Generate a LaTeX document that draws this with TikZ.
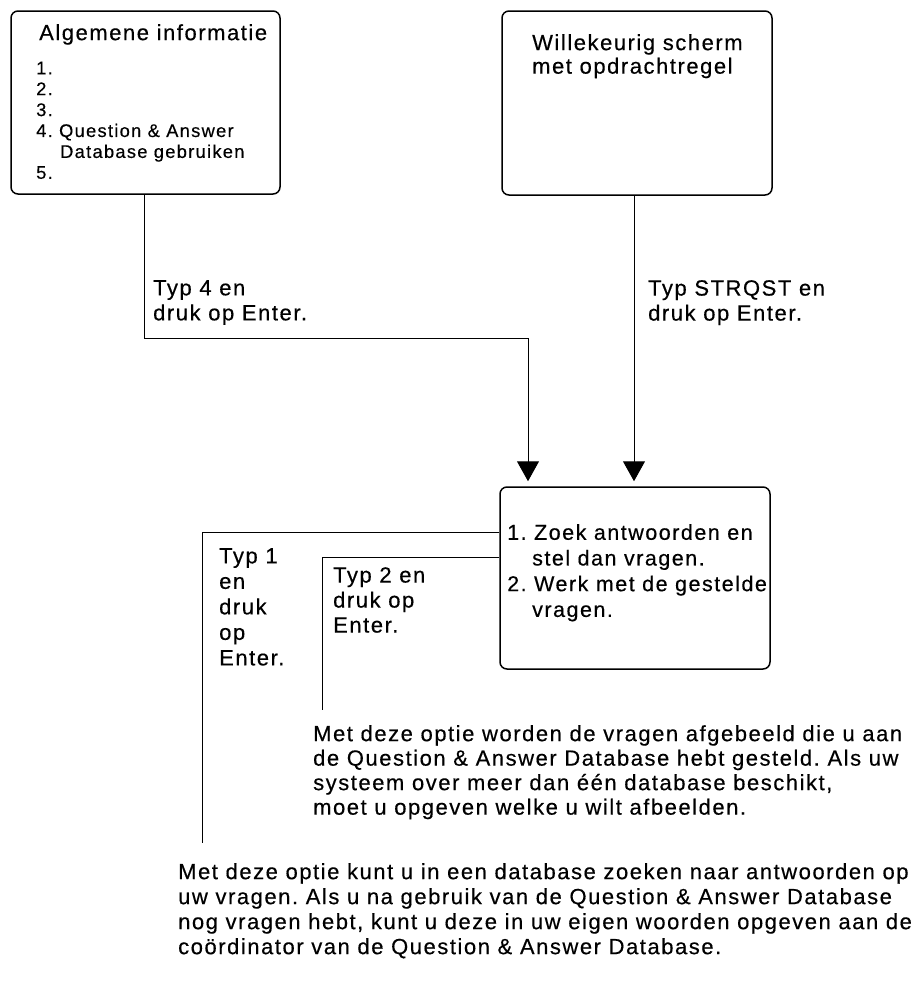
\documentclass[tikz,border=0pt]{standalone}
\usepackage{fontspec}
\setmainfont{Liberation Sans}[LetterSpace=7,FakeBold=0.4]
\usetikzlibrary{arrows.meta}
\frenchspacing
\tikzset{
  box/.style={draw, line width=1.5pt, rounded corners=7pt, inner sep=0pt},
  conn/.style={draw, line width=1pt},
  arr/.style={-{Triangle[width=22pt,length=20pt]}, shorten >=5pt},
  txt/.style={anchor=north west, inner sep=0pt, align=left},
  big/.style={font=\fontsize{22}{25}\selectfont\frenchspacing},
  small/.style={font=\fontsize{18.3}{20.9}\selectfont\frenchspacing},
}
\begin{document}
\begin{tikzpicture}[x=1pt,y=-1pt]
\useasboundingbox (0,0) rectangle (914,983);
% boxes
\node[box, minimum width=269pt, minimum height=183pt] (b1) at (145.5,102.5) {};
\node[box, minimum width=270pt, minimum height=184pt] (b2) at (637,103) {};
\node[box, minimum width=270pt, minimum height=182pt] (b3) at (635,578) {};
% box texts
\node[txt, big] (t1) at (39,24) {Algemene informatie};
\node[txt, small] (t1l) at (36,61.5) {1.\\2.\\3.\\4. Question \& Answer\\\hspace*{24pt}Database gebruiken\\5.};
\node[txt, font=\fontsize{22}{23.5}\selectfont\frenchspacing] (t2) at (532,34) {Willekeurig scherm\\met opdrachtregel};
\node[txt, font=\fontsize{21.5}{25.7}\selectfont\frenchspacing] (t3) at (507,524) {1. Zoek antwoorden en\\\hspace*{25pt}stel dan vragen.\\2. Werk met de gestelde\\\hspace*{25pt}vragen.};
% connector coordinates
\coordinate (k1) at (144,338);
\coordinate (k2) at (528,338);
\coordinate (k3) at (634,300);
\coordinate (k4) at (202,532);
\coordinate (e1) at (202,843);
\coordinate (k5) at (322,557);
\coordinate (e2) at (322,710);
% connectors
\draw[conn, arr] (b1.south -| k1) -- (k1) -- (k2) -- (b3.north -| k2);
\draw[conn, arr] (b2.south -| k3) -- (b3.north -| k3);
\draw[conn] (b3.west |- k4) -- (k4) -- (e1);
\draw[conn] (b3.west |- k5) -- (k5) -- (e2);
% labels
\node[txt, big] (l4) at (153,280) {Typ 4 en\\druk op Enter.};
\node[txt, big] (ls) at (648,280) {Typ STRQST en\\druk op Enter.};
\node[txt, font=\fontsize{22}{25.5}\selectfont\frenchspacing] (l1) at (219,548) {Typ 1\\en\\druk\\op\\Enter.};
\node[txt, big] (l2) at (333,567) {Typ 2 en\\druk op\\Enter.};
% descriptions
\node[txt, font=\fontsize{22}{24.5}\selectfont\frenchspacing] (d2) at (313,725) {Met deze optie worden de vragen afgebeeld die u aan\\de Question \& Answer Database hebt gesteld. Als uw\\systeem over meer dan één database beschikt,\\moet u opgeven welke u wilt afbeelden.};
\node[txt, font=\fontsize{22}{25}\selectfont\frenchspacing] (d1) at (178,863) {Met deze optie kunt u in een database zoeken naar antwoorden op\\uw vragen. Als u na gebruik van de Question \& Answer Database\\nog vragen hebt, kunt u deze in uw eigen woorden opgeven aan de\\coördinator van de Question \& Answer Database.};
\end{tikzpicture}
\end{document}
